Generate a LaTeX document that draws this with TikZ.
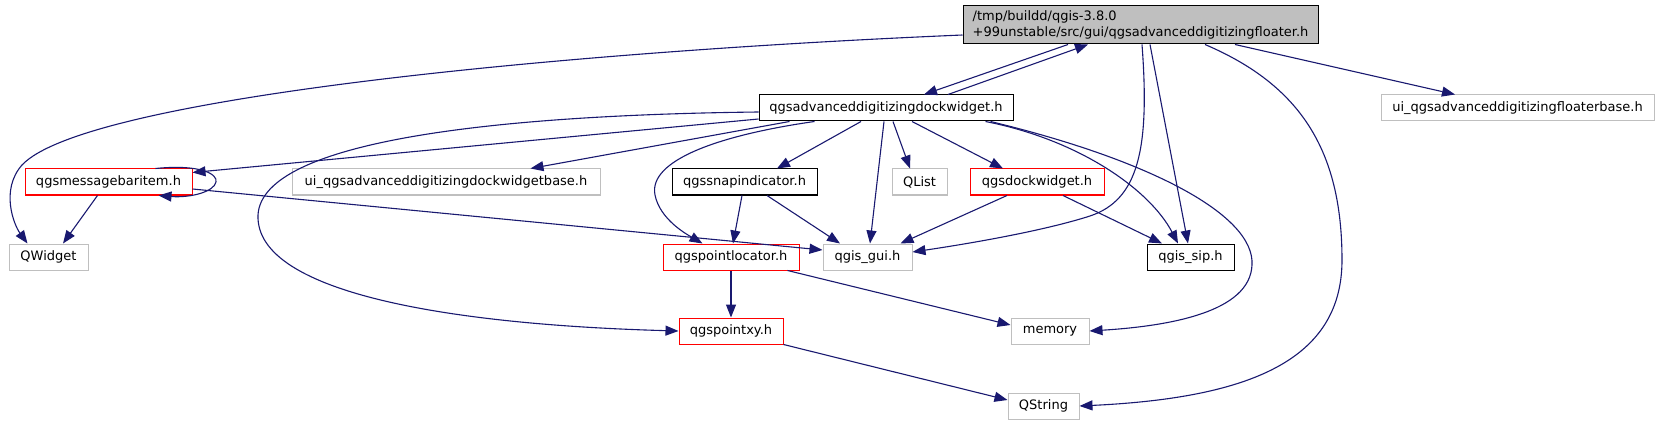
\documentclass[tikz,border=0pt]{standalone}
\usepackage{fontspec}
\setmainfont{DejaVu Sans}
\usepackage{tikz}
\usetikzlibrary{arrows.meta}
\definecolor{edge}{HTML}{191970}
\definecolor{frame}{HTML}{BFBFBF}
\definecolor{trunc}{HTML}{FF0000}
\tikzset{
  hdr/.style={rectangle,draw,fill=white,line width=1pt,inner sep=0pt,minimum height=26pt,font=\fontsize{13}{15.5}\selectfont},
  rbox/.style={hdr,draw=trunc},
  gbox/.style={hdr,draw=frame},
  kbox/.style={hdr,draw=black},
  rootbox/.style={hdr,draw=black,fill=frame,align=left,minimum height=38pt},
  dep/.style={-{Triangle[length=13pt,width=10pt]},line width=1.1pt,color=edge}}

\begin{document}
\begin{tikzpicture}[x=1pt,y=-1pt]
\path[use as bounding box,fill=white] (0,0) rectangle (1658,425);
% headers
\node[rootbox,minimum width=355pt] (floater) at (1140.5,25) {/tmp/buildd/qgis-3.8.0\\+99unstable/src/gui/qgsadvanceddigitizingfloater.h};
\node[kbox,minimum width=254pt] (dock) at (886,108) {qgsadvanceddigitizingdockwidget.h};
\node[gbox,minimum width=273pt] (floaterui) at (1517.5,108) {ui\_qgsadvanceddigitizingfloaterbase.h};
\node[rbox,minimum width=167pt] (msgbar) at (108.5,182) {qgsmessagebaritem.h};
\node[gbox,minimum width=308pt] (dockui) at (446,182) {ui\_qgsadvanceddigitizingdockwidgetbase.h};
\node[kbox,minimum width=145pt] (snap) at (744.5,182) {qgssnapindicator.h};
\node[gbox,minimum width=55pt] (qlist) at (919.5,182) {QList};
\node[rbox,minimum width=134pt] (dockw) at (1037,182) {qgsdockwidget.h};
\node[gbox,minimum width=79pt] (qwidget) at (48.5,257) {QWidget};
\node[rbox,minimum width=136pt] (locator) at (731,257) {qgspointlocator.h};
\node[gbox,minimum width=89pt] (gui) at (867.5,257) {qgis\_gui.h};
\node[kbox,minimum width=87pt] (sip) at (1190.5,257) {qgis\_sip.h};
\node[rbox,minimum width=104pt] (pointxy) at (731,331) {qgspointxy.h};
\node[gbox,minimum width=78pt] (memory) at (1050,331) {memory};
\node[gbox,minimum width=71pt] (qstring) at (1043.5,406) {QString};
% includes of the floater header
\draw[dep] ([yshift=-10pt]floater.west) .. controls (560,52) and (85,98) .. (22,165) .. controls (0,190) and (14,225) .. ([xshift=19pt]qwidget.north west);
\draw[dep] ([xshift=-72.5pt]floater.south) -- ([xshift=38pt]dock.north);
\draw[dep] ([xshift=62pt]dock.north) -- ([xshift=-52.5pt]floater.south);
\draw[dep] ([xshift=94.5pt]floater.south) -- ([xshift=-62.5pt]floaterui.north);
\draw[dep] ([xshift=1.5pt]floater.south) .. controls (1150,150) and (1138,200) .. (1090,216) .. controls (1040,232) and (960,245) .. ([yshift=5pt]gui.east);
\draw[dep] ([xshift=9.5pt]floater.south) -- ([xshift=-2.5pt]sip.north);
\draw[dep] ([xshift=64.5pt]floater.south) .. controls (1300,85) and (1342,150) .. (1342,260) .. controls (1342,360) and (1250,398) .. (qstring.east);
% includes of the dock widget header
\draw[dep] ([yshift=-11pt]dock.west) -- ([yshift=-4pt]msgbar.north east);
\draw[dep] ([xshift=31pt]dock.south west) -- ([xshift=-70pt]dockui.north east);
\draw[dep] ([yshift=-4pt]dock.west) .. controls (500,115) and (262,140) .. (258,215) .. controls (255,295) and (460,325) .. (pointxy.west);
\draw[dep] ([xshift=56pt]dock.south west) .. controls (720,135) and (648,160) .. (655,195) .. controls (660,220) and (688,235) .. ([xshift=40pt]locator.north west);
\draw[dep] ([xshift=-25pt]dock.south) -- ([xshift=32.5pt]snap.north);
\draw[dep] ([xshift=-2pt]dock.south) -- ([xshift=2.5pt]gui.north);
\draw[dep] ([xshift=7pt]dock.south) -- ([xshift=-9.5pt]qlist.north);
\draw[dep] ([xshift=26pt]dock.south) -- ([xshift=-34pt]dockw.north);
\draw[dep] ([xshift=-28pt]dock.south east) .. controls (1080,140) and (1150,190) .. ([xshift=-12.5pt]sip.north);
\draw[dep] ([xshift=-23pt]dock.south east) .. controls (1150,160) and (1255,215) .. (1252,265) .. controls (1250,312) and (1170,326) .. (memory.east);
% the rest
\draw[dep] ([xshift=73pt]msgbar.south west) -- ([xshift=14.5pt]qwidget.north);
\draw[dep] ([xshift=-37pt]msgbar.north east) .. controls (200,164) and (218,174) .. (216,182) .. controls (214,192) and (190,198) .. ([xshift=-34pt]msgbar.south east);
\draw[dep] ([yshift=-7pt]msgbar.east) -- ([yshift=7pt]gui.west);
\draw[dep] ([xshift=-2.5pt]snap.south) -- ([xshift=2pt]locator.north);
\draw[dep] ([xshift=22.5pt]snap.south) -- ([xshift=-27.5pt]gui.north);
\draw[dep] ([xshift=-30pt]dockw.south) -- ([xshift=-12pt]gui.north east);
\draw[dep] ([xshift=26pt]dockw.south) -- ([xshift=-28.5pt]sip.north);
\draw[dep] (locator) -- (pointxy);
\draw[dep] ([xshift=-12pt]locator.south east) -- ([yshift=6pt]memory.west);
\draw[dep] (pointxy.south east) -- ([yshift=6pt]qstring.west);
\end{tikzpicture}
\end{document}
